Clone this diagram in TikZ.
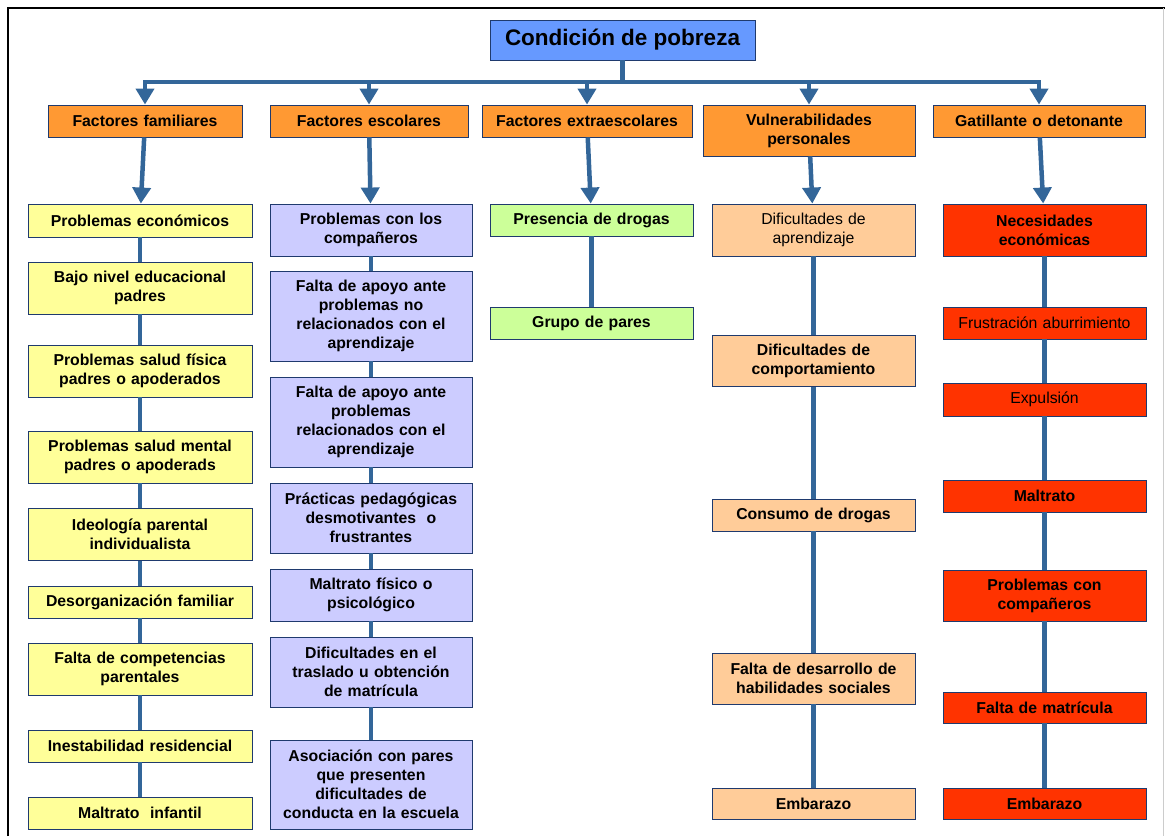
\documentclass[tikz,border=0pt]{standalone}
\usepackage{fontspec}
\setmainfont{Liberation Sans}
\usetikzlibrary{arrows.meta}

\definecolor{pobblue}{HTML}{6699FF}
\definecolor{headorange}{HTML}{FF9933}
\definecolor{famyellow}{HTML}{FFFF99}
\definecolor{esclilac}{HTML}{CCCCFF}
\definecolor{extgreen}{HTML}{CCFF99}
\definecolor{vulpeach}{HTML}{FFCC99}
\definecolor{gatred}{HTML}{FF3300}
\definecolor{linkblue}{HTML}{336699}
\definecolor{boxline}{HTML}{1F3A6E}

\begin{document}
\begin{tikzpicture}[x=1pt,y=-1pt,
  box/.style={draw=boxline,line width=0.9pt,align=center,inner sep=0pt,
    font=\fontsize{15.8}{19}\selectfont\bfseries},
  normaltxt/.style={font=\fontsize{15.8}{19}\selectfont},
  title/.style={box,fill=pobblue,minimum width=265pt,minimum height=40pt,
    font=\fontsize{22.5}{26}\selectfont\bfseries},
  head/.style={box,fill=headorange},
  fam/.style={box,fill=famyellow,text width=224pt},
  esc/.style={box,fill=esclilac,text width=202pt},
  ext/.style={box,fill=extgreen,text width=203pt},
  vul/.style={box,fill=vulpeach,text width=203pt},
  gat/.style={box,fill=gatred,text width=203pt},
  arr/.style={draw=linkblue,line width=4.5pt,-{Triangle[width=18pt,length=16pt]}},
  link/.style={draw=linkblue,line width=4.5pt}]
\useasboundingbox (0,0) rectangle (1165,836);
\draw[line width=1.6pt] (8,836) -- (8,8) -- (1165,8);
\draw[gray!40,line width=0.8pt] (1163.5,8) -- (1163.5,836);

% top level
\node[title] (pob) at (622.5,40) {Condición de pobreza};
\coordinate (bar) at (622.5,82);

\node[head,text width=194pt,minimum height=32pt] (fam) at (145,121) {Factores familiares};
\node[head,text width=198pt,minimum height=32pt] (esc) at (369,121) {Factores escolares};
\node[head,text width=210pt,minimum height=32pt] (ext) at (587,121) {Factores extraescolares};
\node[head,text width=212pt,minimum height=51pt] (vul) at (809,130.5) {Vulnerabilidades\\personales};
\node[head,text width=212pt,minimum height=32pt] (gat) at (1039,121) {Gatillante o detonante};

% factores familiares
\node[fam,minimum height=33pt] (fa1) at (140,220.5) {Problemas económicos};
\node[fam,minimum height=52pt] (fa2) at (140,288) {Bajo nivel educacional\\padres};
\node[fam,minimum height=52pt] (fa3) at (140,371) {Problemas salud física\\padres o apoderados};
\node[fam,minimum height=52pt] (fa4) at (140,457) {Problemas salud mental\\padres o apoderads};
\node[fam,minimum height=52pt] (fa5) at (140,534.5) {Ideología parental\\individualista};
\node[fam,minimum height=32pt] (fa6) at (140,602) {Desorganización familiar};
\node[fam,minimum height=52pt] (fa7) at (140,669) {Falta de competencias\\parentales};
\node[fam,minimum height=32pt] (fa8) at (140,746) {Inestabilidad residencial};
\node[fam,minimum height=32pt] (fa9) at (140,813) {Maltrato~ infantil};

% factores escolares
\node[esc,minimum height=52pt] (es1) at (371,230) {Problemas con los\\compañeros};
\node[esc,minimum height=90pt] (es2) at (371,316) {Falta de apoyo ante\\problemas no\\relacionados con el\\aprendizaje};
\node[esc,minimum height=90pt] (es3) at (371,422) {Falta de apoyo ante\\problemas\\relacionados con el\\aprendizaje};
\node[esc,minimum height=70pt] (es4) at (371,518) {Prácticas pedagógicas\\desmotivantes~ o\\frustrantes};
\node[esc,minimum height=52pt] (es5) at (371,595) {Maltrato físico o\\psicológico};
\node[esc,minimum height=70pt] (es6) at (371,672) {Dificultades en el\\traslado u obtención\\de matrícula};
\node[esc,minimum height=89pt] (es7) at (371,784.5) {Asociación con pares\\que presenten\\dificultades de\\conducta en la escuela};

% factores extraescolares
\node[ext,minimum height=32pt] (ex1) at (591.5,220) {Presencia de drogas};
\node[ext,minimum height=32pt] (ex2) at (591.5,323) {Grupo de pares};

% vulnerabilidades personales
\node[vul,normaltxt,minimum height=52pt] (vu1) at (813.5,230) {Dificultades de\\aprendizaje};
\node[vul,minimum height=51pt] (vu2) at (813.5,361) {Dificultades de\\comportamiento};
\node[vul,minimum height=32pt] (vu3) at (813.5,515) {Consumo de drogas};
\node[vul,minimum height=51pt] (vu4) at (813.5,678.5) {Falta de desarrollo de\\habilidades sociales};
\node[vul,minimum height=31pt] (vu5) at (813.5,803.5) {Embarazo};

% gatillante o detonante
\node[gat,minimum height=52pt] (ga1) at (1044.5,230) {Necesidades\\económicas};
\node[gat,normaltxt,minimum height=32pt] (ga2) at (1044.5,323) {Frustración aburrimiento};
\node[gat,normaltxt,minimum height=33pt] (ga3) at (1044.5,399.5) {Expulsión};
\node[gat,minimum height=32pt] (ga4) at (1044.5,496) {Maltrato};
\node[gat,minimum height=51pt] (ga5) at (1044.5,595.5) {Problemas con\\compañeros};
\node[gat,minimum height=31pt] (ga6) at (1044.5,707.5) {Falta de matrícula};
\node[gat,minimum height=31pt] (ga7) at (1044.5,803.5) {Embarazo};

% connectors
\draw[link] (pob) -- (bar);
\draw[arr] (bar) -| (fam);
\draw[arr] (bar) -| (esc);
\draw[arr] (bar) -| (ext);
\draw[arr] (bar) -| (vul);
\draw[arr] (bar) -| (gat);

\draw[arr] (fam) -- (fa1);
\draw[arr] (esc) -- (es1);
\draw[arr] (ext) -- (ex1);
\draw[arr] (vul) -- (vu1);
\draw[arr] (gat) -- (ga1);

\draw[link] (fa1) -- (fa2) -- (fa3) -- (fa4) -- (fa5) -- (fa6) -- (fa7) -- (fa8) -- (fa9);
\draw[link] (es1) -- (es2) -- (es3) -- (es4) -- (es5) -- (es6) -- (es7);
\draw[link] (ex1) -- (ex2);
\draw[link] (vu1) -- (vu2) -- (vu3) -- (vu4) -- (vu5);
\draw[link] (ga1) -- (ga2) -- (ga3) -- (ga4) -- (ga5) -- (ga6) -- (ga7);
\end{tikzpicture}
\end{document}
